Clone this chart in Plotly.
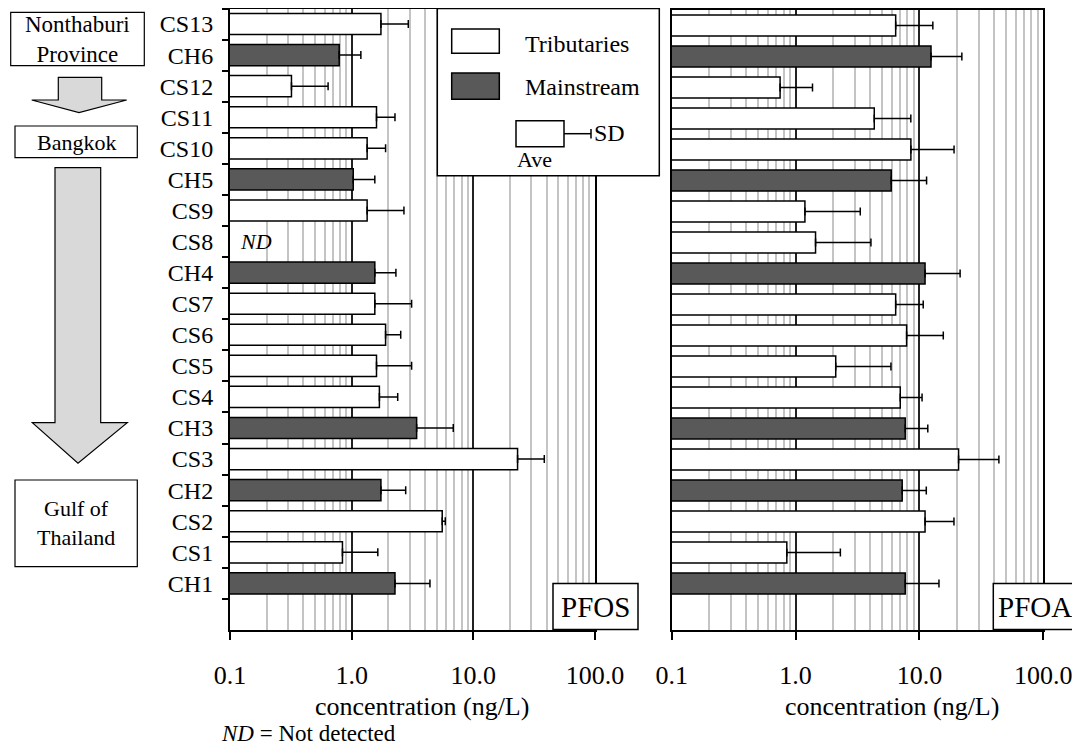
import plotly.graph_objects as go

# ---------------- data ----------------
sites = ["CS13", "CH6", "CS12", "CS11", "CS10", "CH5", "CS9", "CS8", "CH4", "CS7",
         "CS6", "CS5", "CS4", "CH3", "CS3", "CH2", "CS2", "CS1", "CH1", " "]
site_type = ["T", "M", "T", "T", "T", "M", "T", "T", "M", "T",
             "T", "T", "T", "M", "T", "M", "T", "T", "M", None]

pfos_ave = [1.74, 0.79, 0.32, 1.60, 1.34, 1.03, 1.34, None, 1.55, 1.55,
            1.90, 1.60, 1.69, 3.42, 23.1, 1.74, 5.55, 0.84, 2.27, None]
pfos_sd = [1.18, 0.40, 0.32, 0.67, 0.56, 0.52, 1.35, None, 0.76, 1.56,
           0.63, 1.51, 0.70, 3.42, 15.2, 1.04, 0.33, 0.80, 2.13, None]

pfoa_ave = [6.43, 12.4, 0.75, 4.32, 8.53, 5.92, 1.19, 1.45, 11.1, 6.43,
            7.88, 2.11, 7.0, 7.68, 20.7, 7.26, 11.1, 0.85, 7.68, None]
pfoa_sd = [6.4, 9.6, 0.62, 4.2, 10.5, 5.5, 2.14, 2.61, 10.2, 4.3,
           7.7, 3.78, 3.5, 4.0, 23.1, 4.1, 7.9, 1.45, 6.7, None]

x_tickvals = [0.1, 1, 10, 100]
x_ticktext = ["0.1", "1.0", "10.0", "100.0"]

legend_labels = ["Tributaries", "Mainstream"]
# ---------------------------------------

OFF = 8  # page body margin
W, H = 1080 - OFF, 745 - OFF
FONT = "Liberation Serif, Times New Roman, Times, DejaVu Serif, serif"
DARK = "#595959"
colors = {"T": "white", "M": DARK, None: "white"}
bar_colors = [colors[t] for t in site_type]


def px(x):
    return (x - OFF) / W


def py(y):
    return 1 - (y - OFF) / H


fig = go.Figure()

for ave, sd, xa, ya in [(pfos_ave, pfos_sd, "x", "y"), (pfoa_ave, pfoa_sd, "x2", "y2")]:
    fig.add_trace(go.Bar(
        y=sites, x=ave, orientation="h", xaxis=xa, yaxis=ya,
        marker=dict(color=bar_colors, line=dict(color="black", width=1.5)),
        error_x=dict(type="data", symmetric=False, array=sd,
                     arrayminus=[0] * len(sd), color="black", thickness=1.5, width=4),
        showlegend=False, hoverinfo="x+y",
    ))

xaxis_common = dict(
    type="log", range=[-1, 2], tickvals=x_tickvals, ticktext=x_ticktext,
    ticks="outside", ticklen=8, tickwidth=2, tickcolor="black",
    showline=True, linecolor="black", linewidth=2, mirror=True,
    showgrid=True, gridcolor="#222222", gridwidth=2,
    minor=dict(dtick="D1", showgrid=True, gridcolor="#c4c4c4", gridwidth=1.5, ticks=""),
    tickfont=dict(family=FONT, size=26, color="black"),
    ticklabelstandoff=13, automargin=False, zeroline=False, fixedrange=True,
)

yaxis_common = dict(
    type="category", categoryorder="array", categoryarray=sites,
    range=[19.5, -0.5], showline=True, linecolor="black", linewidth=2, mirror=True,
    showgrid=False, zeroline=False, automargin=False, fixedrange=True,
)

fig.update_layout(
    width=W, height=H,
    margin=dict(l=0, r=0, t=0, b=0),
    paper_bgcolor="white", plot_bgcolor="white",
    bargap=0.32,
    font=dict(family=FONT, color="black"),
    xaxis=dict(domain=[px(230), px(595)], anchor="y", **xaxis_common),
    xaxis2=dict(domain=[px(671.7), px(1043.3)], anchor="y2", **xaxis_common),
    yaxis=dict(domain=[py(630), py(8.5)], anchor="x", ticks="outside", ticklen=6,
               tickwidth=1.5, tickcolor="black", tickson="boundaries",
               tickfont=dict(family=FONT, size=24, color="black"),
               ticklabelstandoff=10, **yaxis_common),
    yaxis2=dict(domain=[py(630), py(10)], anchor="x2", ticks="",
                showticklabels=False, **yaxis_common),
)

shapes = []
ann = []


def rect(x0, y0, x1, y1, fill="white", lw=1.5):
    shapes.append(dict(type="rect", xref="paper", yref="paper",
                       x0=px(x0), x1=px(x1), y0=py(y1), y1=py(y0),
                       fillcolor=fill, line=dict(color="black", width=lw), layer="above"))


def line(x0, y0, x1, y1, lw=1.5):
    shapes.append(dict(type="line", xref="paper", yref="paper",
                       x0=px(x0), x1=px(x1), y0=py(y0), y1=py(y1),
                       line=dict(color="black", width=lw), layer="above"))


def text(x, y, s, size=23, xanchor="center", italic=False):
    ann.append(dict(xref="paper", yref="paper", x=px(x), y=py(y), text=s,
                    showarrow=False, xanchor=xanchor, yanchor="middle",
                    font=dict(family=FONT, size=size, color="black",
                              style="italic" if italic else "normal")))


def arrow(sl, sr, top, neck, hl, hr, tipx, tipy):
    pts = [(sl, top), (sr, top), (sr, neck), (hr, neck), (tipx, tipy), (hl, neck), (sl, neck)]
    path = "M " + " L ".join(f"{px(a):.5f},{py(b):.5f}" for a, b in pts) + " Z"
    shapes.append(dict(type="path", xref="paper", yref="paper", path=path,
                       fillcolor="#d9d9d9", line=dict(color="black", width=1.2), layer="above"))


# Legend box
rect(437.3, 8.5, 659.3, 175.7)
rect(451.7, 29, 499.3, 53.3, "white")
rect(451.7, 73, 499.3, 99.3, DARK)
text(522.7, 44, legend_labels[0], size=24, xanchor="left")
text(522.7, 87, legend_labels[1], size=24, xanchor="left")
rect(516, 120.7, 564, 146.7, "white")
line(564, 133.7, 591, 133.7)
line(591, 129, 591, 138.5)
text(591.5, 133, "SD", size=24, xanchor="left")
text(534, 160, "Ave", size=22)

# Flow diagram
rect(10.7, 12.3, 144.3, 65.7, lw=1.2)
text(77.5, 39, "Nonthaburi<br>Province", size=23)
arrow(58.3, 101.7, 77.3, 100, 31.7, 126.7, 79, 112.7)
rect(15, 126, 137.3, 157.7, lw=1.2)
text(76, 142, "Bangkok", size=22)
arrow(55, 100.7, 167.7, 422.7, 32.3, 127.3, 78, 463.3)
rect(15, 480, 137.3, 566.7, lw=1.2)
text(76, 523, "Gulf of<br>Thailand", size=22)

# Panel labels
for x0, x1, lab in [(553, 638, "PFOS"), (993.3, 1076.7, "PFOA")]:
    rect(x0, 583.5, x1, 629.5)
    text((x0 + x1) / 2, 607, lab, size=29)

# Axis titles
text(421.7, 706, "concentration (ng/L)", size=26)
text(891.7, 706, "concentration (ng/L)", size=26)
text(219, 733, "<i>ND</i> = Not detected", size=23, xanchor="left")

# ND label on CS8 row
ann.append(dict(xref="x", yref="y", x=-1, y="CS8", text="<i>ND</i>", showarrow=False,
                xanchor="left", yanchor="middle", xshift=8,
                font=dict(family=FONT, size=22, color="black")))

fig.update_layout(shapes=shapes, annotations=ann)
fig.write_html("out.html")
